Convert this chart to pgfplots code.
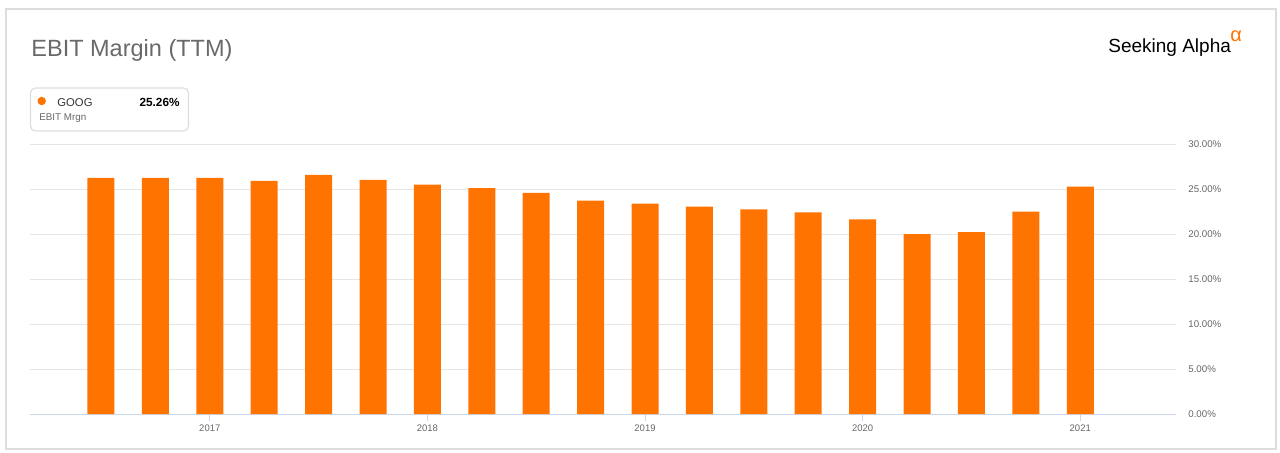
\documentclass[border=0pt]{standalone}
\usepackage{pgfplots}
\pgfplotsset{compat=1.18}
\usepackage{fontspec}
\setmainfont{Liberation Sans}
\definecolor{saorange}{RGB}{255,115,0}
\definecolor{gridc}{RGB}{230,230,230}
\definecolor{axisc}{RGB}{204,214,235}
\definecolor{labc}{RGB}{102,102,102}
\definecolor{titc}{RGB}{105,105,105}
\definecolor{brd}{RGB}{221,221,221}
\pgfplotstableread{
x y
0 26.23
1 26.23
2 26.23
3 25.90
4 26.57
5 26.01
6 25.49
7 25.11
8 24.57
9 23.71
10 23.37
11 23.04
12 22.74
13 22.39
14 21.63
15 20.00
16 20.22
17 22.48
18 25.26
}\ebit
\begin{document}
\begin{tikzpicture}[x=0.5pt,y=0.5pt]
\useasboundingbox (0,0) rectangle (1280,452);
\draw[brd, line width=0.75pt] (6,443) rectangle (1276,3);
% title
\node[anchor=base west, inner sep=0pt, text=titc, font=\fontsize{11.75}{14}\selectfont] at (31,396) {EBIT Margin (TTM)};
% logo
\node[anchor=base west, inner sep=0pt, font=\fontsize{9.5}{11}\selectfont] at (1108,400) {Seeking Alpha};
\node[anchor=base west, inner sep=0pt, text=saorange, font=\fontsize{10}{11}\selectfont] at (1230,411) {α};
% legend box
\draw[brd, line width=0.6pt, rounded corners=2.5pt] (30.5,364) rectangle (188.5,321);
\fill[saorange] (41.7,351) circle (4.2);
\node[anchor=base west, inner sep=0pt, text={rgb,255:red,51;green,51;blue,51}, font=\fontsize{5.65}{7}\selectfont] at (57,346) {GOOG};
\node[anchor=base east, inner sep=0pt, font=\fontsize{5.9}{7}\selectfont\bfseries] at (180,346) {25.26\%};
\node[anchor=base west, inner sep=0pt, text=labc, font=\fontsize{4.9}{6}\selectfont] at (39,331.5) {EBIT Mrgn};
\begin{axis}[
  at={(15pt,19pt)}, anchor=south west,
  scale only axis, width=573pt, height=135pt,
  xmin=-1.305, xmax=19.76, ymin=0, ymax=30,
  enlarge x limits=false,
  axis x line*=bottom, axis y line*=right,
  x axis line style={draw=axisc, line width=0.5pt},
  y axis line style={draw=none},
  xtick={2,6,10,14,18},
  xticklabels={2017,2018,2019,2020,2021},
  xtick align=outside,
  xtick style={draw=axisc, line width=0.5pt},
  major tick length=3.5pt,
  ytick={0,5,10,15,20,25,30},
  ytick style={draw=none},
  ymajorgrids, grid style={draw=gridc, line width=0.5pt},
  yticklabel={\pgfmathprintnumber[fixed,fixed zerofill,precision=2]{\tick}\%},
  /pgf/number format/assume math mode=true,
  yticklabel style={anchor=west, inner sep=0pt, xshift=6pt, text=labc, font=\fontsize{4.85}{6}\selectfont},
  xticklabel style={inner sep=0pt, yshift=-1.5pt, text=labc, font=\fontsize{4.75}{6}\selectfont},
  axis on top=false,
]
\addplot[ybar, bar width=13.5pt, fill=saorange, draw=none] table[x=x,y=y] {\ebit};
\end{axis}
\end{tikzpicture}
\end{document}
